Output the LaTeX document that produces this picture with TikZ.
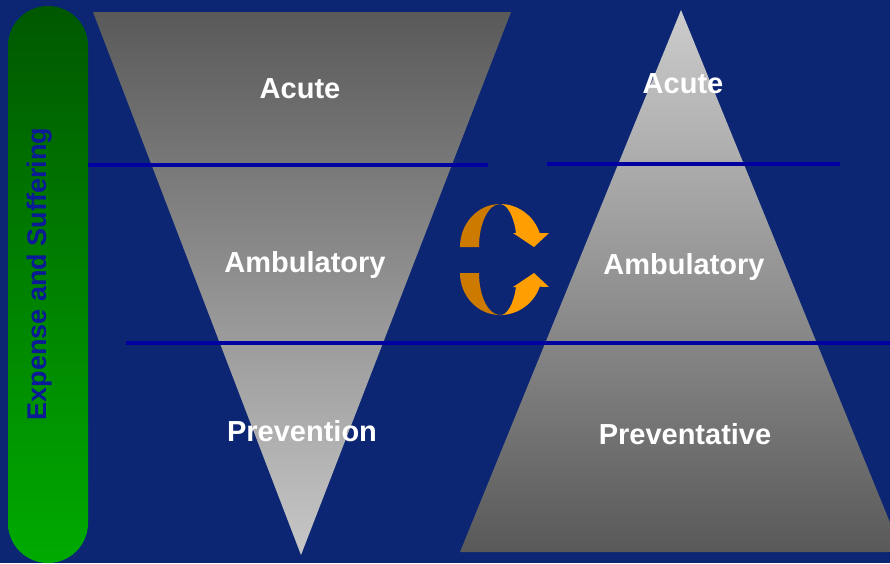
\documentclass[tikz,border=0pt]{standalone}
\usepackage{fontspec}
\setmainfont{Liberation Sans}
\definecolor{slidebg}{RGB}{12,38,116}
\definecolor{divblue}{RGB}{0,0,160}
\definecolor{bartop}{RGB}{0,88,0}
\definecolor{barbot}{RGB}{0,170,0}
\definecolor{bartext}{RGB}{11,26,150}
\definecolor{orangedark}{RGB}{204,122,0}
\definecolor{orangelight}{RGB}{255,158,0}
\begin{document}
\begin{tikzpicture}[x=1pt,y=-1pt,
  tierlabel/.style={text=white,font=\bfseries\fontsize{29}{33}\selectfont,inner sep=0pt},
  divider/.style={draw=divblue,line width=4pt},
  ribbondark/.style={fill=orangedark},
  ribbonlight/.style={fill=orangelight}]
\useasboundingbox (0,0) rectangle (890,563);
\fill[slidebg] (0,0) rectangle (890,563);
\begin{scope}
\clip (0,0) rectangle (890,563);
% side bar
\shade[top color=bartop,bottom color=barbot,rounded corners=40pt] (8,6) rectangle (88,563);
% inverted pyramid
\shade[top color=black!65,bottom color=black!22] (93,12) -- (511,12) -- (301,555) -- cycle;
% upright pyramid
\shade[top color=black!20,bottom color=black!65] (681,10) -- (902,552) -- (460,552) -- cycle;
\end{scope}
% tier dividers
\coordinate (d1a) at (88,164.5);
\coordinate (d1b) at (488,164.5);
\coordinate (d2a) at (547,163.5);
\coordinate (d2b) at (840,163.5);
\coordinate (d3a) at (126,343);
\coordinate (d3b) at (890,343);
\draw[divider] (d1a) -- (d1b);
\draw[divider] (d2a) -- (d2b);
\draw[divider] (d3a) -- (d3b);
% cycle arrows: upper ribbon
\fill[ribbondark] (460,247) .. controls (460,223.25) and (477.9,204) .. (500,204)
  .. controls (488.4,204) and (479,223.25) .. (479,247) -- cycle;
\fill[ribbonlight] (500,204) arc[start angle=90,end angle=19,x radius=42pt,y radius=43pt]
  -- (549,233) -- (534,247) -- (513,233) -- (516,233)
  arc[start angle=19,end angle=90,x radius=17pt,y radius=43pt] -- cycle;
% cycle arrows: lower ribbon
\fill[ribbondark] (460,273) .. controls (460,296.2) and (477.9,315) .. (500,315)
  .. controls (488.4,315) and (479,296.2) .. (479,273) -- cycle;
\fill[ribbonlight] (500,315) arc[start angle=-90,end angle=-19,x radius=42pt,y radius=42pt]
  -- (549,287) -- (534,273) -- (513,287) -- (516,287)
  arc[start angle=-19,end angle=-90,x radius=17pt,y radius=42pt] -- cycle;
% labels
\node[text=bartext,font=\bfseries\fontsize{27}{31}\selectfont,rotate=90,inner sep=0pt] (axis) at (40,274) {Expense and Suffering};
\node[tierlabel] (lacute) at (300,89) {Acute};
\node[tierlabel] (lamb) at (305,265) {Ambulatory};
\node[tierlabel] (lprev) at (302,431) {Prevention};
\node[tierlabel] (racute) at (683,84) {Acute};
\node[tierlabel] (ramb) at (684,267) {Ambulatory};
\node[tierlabel] (rprev) at (685,434) {Preventative};
\end{tikzpicture}
\end{document}
